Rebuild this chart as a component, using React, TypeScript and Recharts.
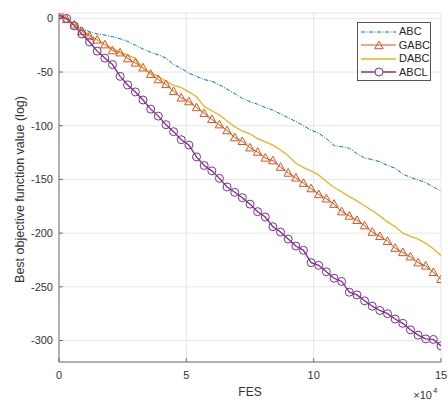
import React from "react";
import {
  LineChart,
  Line,
  XAxis,
  YAxis,
  CartesianGrid,
} from "recharts";

// FES in units of 1e4
const FES = [
  0, 0.3, 0.6, 0.9, 1.2, 1.5, 1.8, 2.1, 2.4, 2.7, 3.0, 3.3, 3.6, 3.9, 4.2, 4.5,
  4.8, 5.1, 5.4, 5.7, 6.0, 6.3, 6.6, 6.9, 7.2, 7.5, 7.8, 8.1, 8.4, 8.7, 9.0,
  9.3, 9.6, 9.9, 10.2, 10.5, 10.8, 11.1, 11.4, 11.7, 12.0, 12.3, 12.6, 12.9,
  13.2, 13.5, 13.8, 14.1, 14.4, 14.7, 15.0,
];

const ABC = [
  2, 0, -5.5, -9, -12.5, -14.5, -15.5, -17, -19, -21.5, -25, -28.5, -31.5, -34,
  -37, -43, -46.5, -51, -54, -57, -58.5, -62, -66, -70, -74.5, -77.5, -80, -83,
  -85.5, -89, -92.5, -96, -100, -104, -107, -112, -118.5, -119.5, -121, -126,
  -130, -131.5, -133.5, -137, -139.5, -145, -148, -150.5, -153, -157, -161,
];

const GABC = [
  3, -1, -6, -12, -16.5, -20, -24.5, -30, -32, -37.5, -41.5, -46, -52, -57,
  -61.5, -68, -74, -77.5, -83, -88.5, -94, -99, -104.5, -111, -114.5, -120.5,
  -124.5, -130, -132.5, -138.5, -144, -148.5, -153.5, -158.5, -164, -168, -173,
  -180, -184, -188, -193, -199, -203, -207.5, -214, -218, -222, -227.5, -230.5,
  -236.5, -243,
];

const DABC = [
  2, -1, -5, -11, -15.5, -20, -24.5, -28, -31.5, -34.5, -37, -47, -50.5, -54,
  -58.5, -62.5, -64.5, -68.5, -73, -82, -86, -90, -95.5, -101, -105, -107.5,
  -112, -115, -118, -122.5, -128, -135, -139, -142, -146, -152, -157.5, -161.5,
  -166, -170, -174.5, -179, -184, -189.5, -194, -200, -203, -205.5, -209.5,
  -214.5, -221,
];

const ABCL = [
  3, 0, -7, -14.5, -22, -30.5, -37, -43, -54, -62, -68.5, -76, -84.5, -91, -99,
  -105.5, -113, -118, -129, -137, -142, -149, -157, -162, -167, -173, -180,
  -185, -194, -199, -205.5, -212, -216, -227.5, -230, -236, -242, -245, -255,
  -257.5, -263, -268, -272, -275, -280, -284, -290, -295, -298.5, -299, -305,
];

const X_TICKS = [0, 5, 10, 15];
const Y_TICKS = [-300, -250, -200, -150, -100, -50, 0];

const data = FES.map((fes, i) => ({
  fes,
  abc: ABC[i],
  gabc: GABC[i],
  dabc: DABC[i],
  abcl: ABCL[i],
}));

const FONT = '"Liberation Sans", Arial, Helvetica, sans-serif';
const AXIS = "#707070";
const TEXT = "#333333";
const GRID = "#e6e6e6";

const C_ABC = "#0072BD";
const C_GABC = "#D95319";
const C_DABC = "#EDB120";
const C_ABCL = "#7E2F8E";

function Triangle({ cx, cy, stroke }: { cx: number; cy: number; stroke: string }) {
  const pts = `${cx},${cy - 4.4} ${cx - 4.2},${cy + 3.2} ${cx + 4.2},${cy + 3.2}`;
  return <polygon points={pts} fill="none" stroke={stroke} strokeWidth={1} />;
}

function triangleDot(props: any) {
  const { cx, cy, index } = props;
  if (cx == null || cy == null) return <g key={`t-${index}`} />;
  return (
    <g key={`t-${index}`}>
      <Triangle cx={cx} cy={cy} stroke={C_GABC} />
    </g>
  );
}

// FES title plus the MATLAB-style exponent note under the right end of the axis
function XLabels(props: any) {
  const { x, y, width } = props.viewBox;
  return (
    <g fontFamily={FONT} fill={TEXT}>
      <text x={x + width / 2} y={y + 34} fontSize={12} textAnchor="middle">
        FES
      </text>
      <text x={x + width - 9} y={y + 37} fontSize={11} textAnchor="end">
        {"\u00d710"}
      </text>
      <text x={x + width - 8} y={y + 31} fontSize={8} textAnchor="start">
        4
      </text>
    </g>
  );
}

function YLabel(props: any) {
  const { y, height } = props.viewBox;
  const cx = 24;
  const cy = y + height / 2 + 2;
  return (
    <text
      x={cx}
      y={cy}
      transform={`rotate(-90 ${cx} ${cy})`}
      textAnchor="middle"
      fontFamily={FONT}
      fontSize={12.5}
      fill={TEXT}
    >
      Best objective function value (log)
    </text>
  );
}

const LEGEND_ROWS = [
  { name: "ABC", color: C_ABC, dash: "4 1.5 1 1.5", marker: "none" },
  { name: "GABC", color: C_GABC, dash: undefined, marker: "tri" },
  { name: "DABC", color: C_DABC, dash: undefined, marker: "none" },
  { name: "ABCL", color: C_ABCL, dash: undefined, marker: "circle" },
];

function LegendBox() {
  return (
    <div
      style={{
        position: "absolute",
        left: 357,
        top: 22,
        border: "1px solid #555",
        background: "#fff",
        width: 72,
        padding: "2px 0 1px 0",
        fontFamily: FONT,
        fontSize: 11,
        color: "#262626",
        boxSizing: "content-box",
      }}
    >
      {LEGEND_ROWS.map((r) => (
        <div
          key={r.name}
          style={{ display: "flex", alignItems: "center", height: 13.5, lineHeight: "13.5px" }}
        >
          <svg width={41} height={12} style={{ display: "block" }}>
            <line
              x1={3}
              x2={38}
              y1={6}
              y2={6}
              stroke={r.color}
              strokeWidth={r.name === "ABC" || r.name === "GABC" ? 1 : 1.3}
              strokeDasharray={r.dash}
            />
            {r.marker === "tri" && <Triangle cx={21} cy={6.5} stroke={r.color} />}
            {r.marker === "circle" && (
              <circle cx={21} cy={6} r={4} fill="#fff" stroke={r.color} strokeWidth={1} />
            )}
          </svg>
          <span>{r.name}</span>
        </div>
      ))}
    </div>
  );
}

export default function App() {
  return (
    <div style={{ position: "absolute", left: 0, top: 0, width: 448, height: 405, background: "#fff" }}>
      <LineChart
        width={448}
        height={405}
        data={data}
        margin={{ top: 13, right: 7, bottom: 0, left: 0 }}
      >
        <CartesianGrid stroke={GRID} strokeWidth={1} />
        <XAxis
          dataKey="fes"
          type="number"
          domain={[0, 15]}
          ticks={X_TICKS}
          allowDataOverflow
          height={43}
          stroke={AXIS}
          tickSize={-4}
          tickMargin={13}
          tick={{ fill: TEXT, fontSize: 11, fontFamily: FONT }}
          label={<XLabels />}
        />
        <XAxis
          xAxisId="top"
          orientation="top"
          dataKey="fes"
          type="number"
          domain={[0, 15]}
          ticks={X_TICKS}
          allowDataOverflow
          height={0}
          stroke={AXIS}
          tickSize={-4}
          tick={false}
        />
        <YAxis
          type="number"
          domain={[-320, 5]}
          ticks={Y_TICKS}
          allowDataOverflow
          width={59}
          stroke={AXIS}
          tickSize={-4}
          tickMargin={10}
          tick={{ fill: TEXT, fontSize: 11, fontFamily: FONT }}
          label={<YLabel />}
        />
        <YAxis
          yAxisId="right"
          orientation="right"
          type="number"
          domain={[-320, 5]}
          ticks={Y_TICKS}
          allowDataOverflow
          width={0}
          stroke={AXIS}
          tickSize={-4}
          tick={false}
        />
        <Line
          dataKey="abc"
          name="ABC"
          stroke={C_ABC}
          strokeWidth={1}
          strokeDasharray="4 1.5 1 1.5"
          dot={false}
          activeDot={false}
          isAnimationActive={false}
        />
        <Line
          dataKey="gabc"
          name="GABC"
          stroke={C_GABC}
          strokeWidth={1}
          dot={triangleDot}
          activeDot={false}
          isAnimationActive={false}
        />
        <Line
          dataKey="dabc"
          name="DABC"
          stroke={C_DABC}
          strokeWidth={1.3}
          dot={false}
          activeDot={false}
          isAnimationActive={false}
        />
        <Line
          dataKey="abcl"
          name="ABCL"
          stroke={C_ABCL}
          strokeWidth={1.3}
          dot={{ r: 4, fill: "none", stroke: C_ABCL, strokeWidth: 1 }}
          activeDot={false}
          isAnimationActive={false}
        />
      </LineChart>
      <LegendBox />
    </div>
  );
}
